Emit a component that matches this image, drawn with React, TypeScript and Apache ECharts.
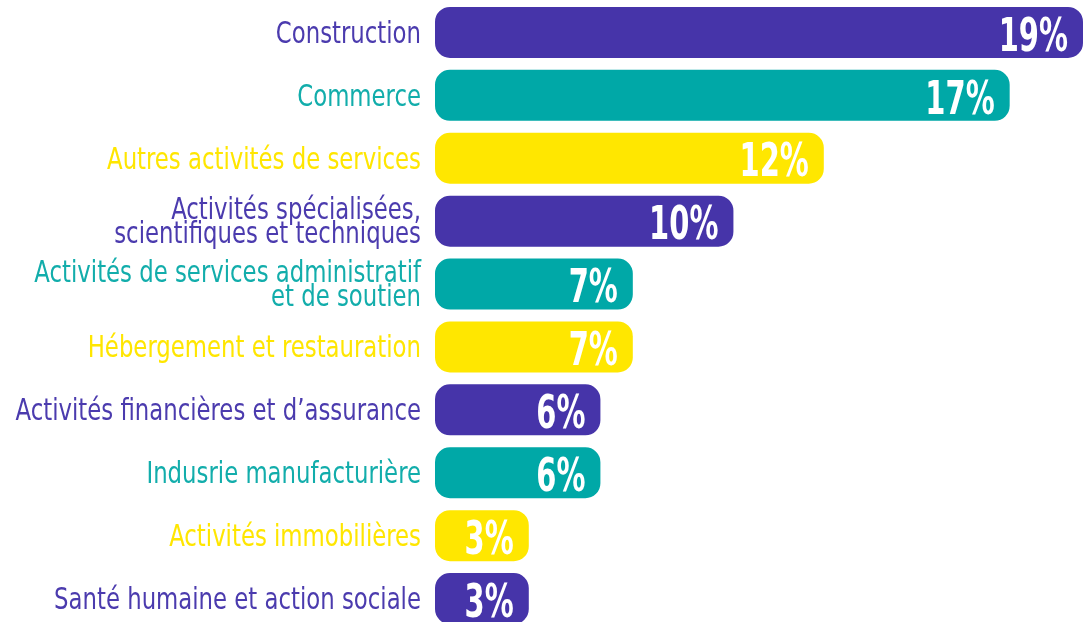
import React, { useEffect, useRef } from "react";
import * as echarts from "echarts";

const categories = [
  "Construction",
  "Commerce",
  "Autres activités de services",
  "Activités spécialisées,\nscientifiques et techniques",
  "Activités de services administratif\net de soutien",
  "Hébergement et restauration",
  "Activités financières et d’assurance",
  "Indusrie manufacturière",
  "Activités immobilières",
  "Santé humaine et action sociale",
];
// percentages printed on the bars
const shareLabels = [19, 17, 12, 10, 7, 7, 6, 6, 3, 3];
// bar lengths as drawn in the picture (same unit as the percentages)
const barLengths = [19, 16.85, 11.4, 8.75, 5.8, 5.8, 4.85, 4.85, 2.75, 2.75];
const colorKeys = ["purple", "teal", "yellow", "purple", "teal", "yellow", "purple", "teal", "yellow", "purple"];
const palette: Record<string, string> = { purple: "#4634A9", teal: "#00A8A7", yellow: "#FFE700" };
const labelPalette: Record<string, string> = { purple: "#4B3BAE", teal: "#12ADAB", yellow: "#FFE600" };

const FONT = "'Liberation Sans Narrow', 'DejaVu Sans Condensed', sans-serif";

export default function App() {
  const ref = useRef<HTMLDivElement>(null);
  useEffect(() => {
    if (!ref.current) return;
    const chart = echarts.init(ref.current, undefined, { renderer: "svg" });
    chart.setOption({
      animation: false,
      grid: { left: 435, right: 1, top: 1, height: 629, outerBoundsMode: "none", containLabel: false },
      xAxis: { type: "value", min: 0, max: 19, show: false },
      yAxis: {
        type: "category",
        inverse: true,
        data: categories,
        axisLine: { show: false },
        axisTick: { show: false },
        splitLine: { show: false },
        axisLabel: { show: false },
      },
      series: [
        {
          type: "bar",
          barWidth: 51,
          z: 2,
          data: barLengths.map((v, i) => ({
            value: v,
            itemStyle: { color: palette[colorKeys[i]], borderRadius: 15 },
          })),
        },
      ],
    });

    const x0 = chart.convertToPixel({ xAxisIndex: 0 }, 0) as number;
    const graphics: any[] = [];
    categories.forEach((c, i) => {
      const y = chart.convertToPixel({ yAxisIndex: 0 }, c) as number;
      const xEnd = chart.convertToPixel({ xAxisIndex: 0 }, barLengths[i]) as number;
      graphics.push({
        type: "text",
        x: x0 - 14,
        y: y,
        scaleX: 0.845,
        silent: true,
        z: 100,
        style: {
          text: c,
          fill: labelPalette[colorKeys[i]],
          fontFamily: FONT,
          fontSize: 30,
          lineHeight: 24,
          align: "right",
          textAlign: "right",
          verticalAlign: "middle",
          textVerticalAlign: "middle",
        },
      });
      graphics.push({
        type: "text",
        x: xEnd - 15,
        y: y + 2,
        scaleX: 0.7,
        silent: true,
        z: 100,
        style: {
          text: shareLabels[i] + "%",
          fill: "#ffffff",
          fontFamily: FONT,
          fontWeight: "bold",
          fontSize: 46,
          lineHeight: 38,
          align: "right",
          textAlign: "right",
          verticalAlign: "middle",
          textVerticalAlign: "middle",
        },
      });
    });
    chart.setOption({ graphic: { elements: graphics } });
    return () => chart.dispose();
  }, []);
  return (
    <div
      ref={ref}
      style={{ position: "fixed", left: 0, top: 0, width: 1084, height: 640 }}
    />
  );
}
